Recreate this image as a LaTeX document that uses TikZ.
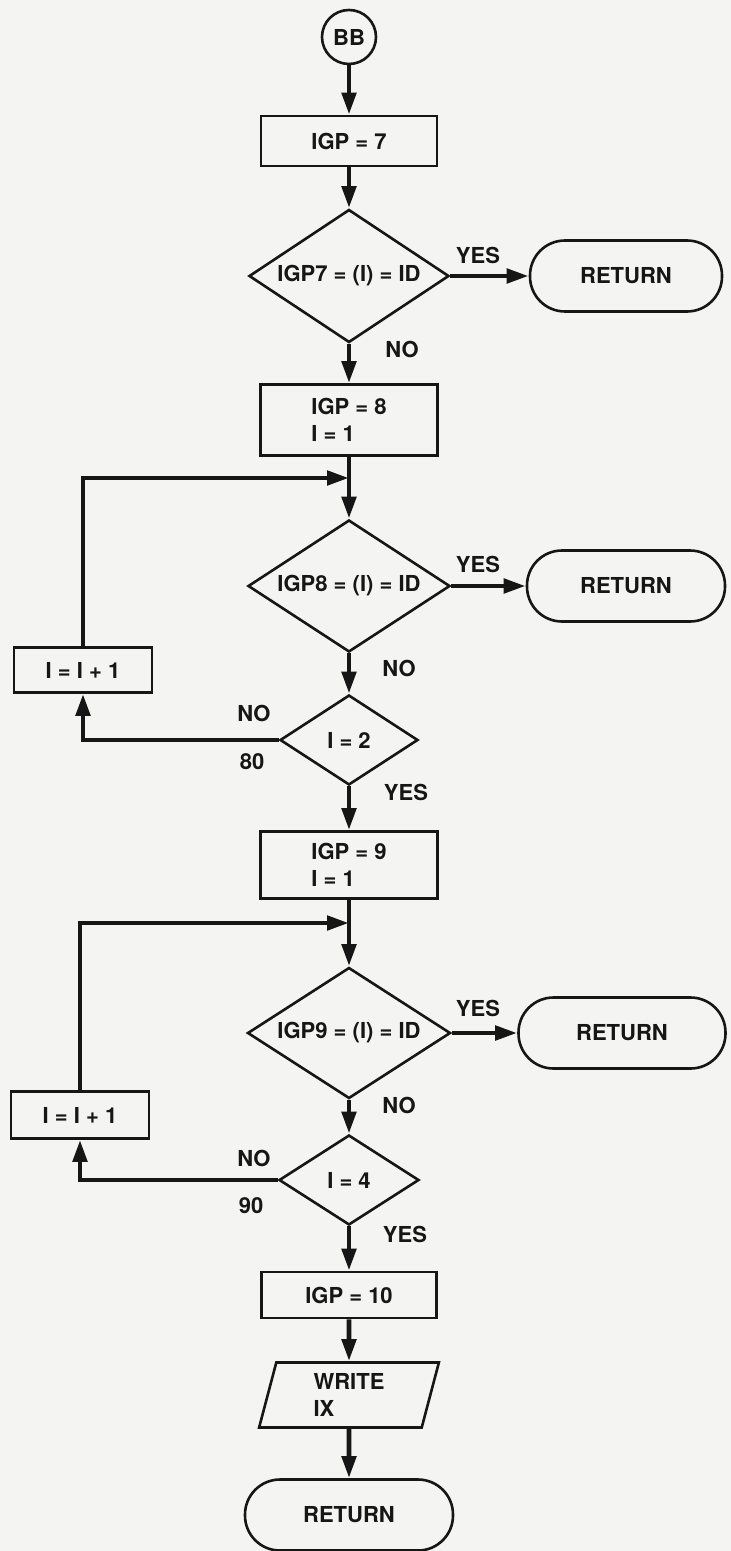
\documentclass[tikz,border=0pt]{standalone}
\usepackage{fontspec}
\setmainfont{TeX Gyre Heros}
\usetikzlibrary{arrows.meta,shapes.geometric}
\definecolor{paper}{HTML}{F4F4F2}
\definecolor{ink}{HTML}{161616}

\begin{document}
\begin{tikzpicture}[x=.5pt,y=-.5pt,line width=1.3pt,ink,
  every node/.style={font=\bfseries\fontsize{11}{13.5}\selectfont,text=ink},
  proc/.style={draw,rectangle,inner sep=0pt},
  decision/.style={draw,diamond,aspect=1.5,inner sep=0pt},
  term/.style={draw,rectangle,rounded corners=17.5pt,inner sep=0pt,minimum height=35.5pt},
  flow/.style={line width=2.4pt,-{Triangle[length=11pt,width=7pt]}}]
\fill[paper] (0,0) rectangle (731,1551);
\useasboundingbox (0,0) rectangle (731,1551);
% main column
\node[draw,circle,minimum size=27pt,inner sep=0pt] (bb) at (349,37) {BB};
\node[proc,minimum width=88pt,minimum height=25pt] (igp7) at (349,141) {IGP = 7};
\node[decision,minimum width=100pt,minimum height=66.5pt] (d7) at (349,276) {IGP7 = (I) = ID};
\node[term,minimum width=96pt] (ret7) at (626,276) {RETURN};
\node[proc,minimum width=88.5pt,minimum height=35.5pt,align=left] (igp8) at (349,420) {IGP = 8\\I = 1};
\coordinate (j8) at (349,478);
\node[decision,minimum width=101pt,minimum height=66pt] (d8) at (349,586) {IGP8 = (I) = ID};
\node[term,minimum width=99pt] (ret8) at (626,586) {RETURN};
\node[proc,minimum width=69pt,minimum height=22.5pt] (inc8) at (83,670) {I = I + 1};
\node[decision,minimum width=69pt,minimum height=45pt] (c8) at (349,740) {I = 2};
\node[proc,minimum width=88.5pt,minimum height=33.5pt,align=left] (igp9) at (349,865) {IGP = 9\\I = 1};
\coordinate (j9) at (349,923);
\node[decision,minimum width=101.5pt,minimum height=65.5pt] (d9) at (349,1033) {IGP9 = (I) = ID};
\node[term,minimum width=103.5pt] (ret9) at (622,1033) {RETURN};
\node[proc,minimum width=69pt,minimum height=23.5pt] (inc9) at (80,1115) {I = I + 1};
\node[decision,minimum width=70pt,minimum height=45pt] (c9) at (349,1180) {I = 4};
\node[proc,minimum width=87.5pt,minimum height=23pt] (igp10) at (349,1295) {IGP = 10};
\node[draw,trapezium,trapezium stretches=true,trapezium left angle=79,trapezium right angle=101,
  minimum width=90pt,minimum height=32.5pt,inner sep=0pt,align=left] (wr) at (349,1395) {WRITE\\IX};
\node[term,minimum width=104pt] (ret10) at (349,1515) {RETURN};
% connectors
\draw[flow] (bb) -- (igp7);
\draw[flow] (igp7) -- (d7);
\draw[flow] (d7.east) -- (ret7.west);
\draw[flow] (d7.south) -- (igp8.north);
\draw[flow] (igp8.south) -- (d8.north);
\draw[flow] (d8.east) -- (ret8.west);
\draw[flow] (d8.south) -- (c8.north);
\draw[flow] (c8.west) -| (inc8.south);
\draw[flow] (inc8.north) |- (j8);
\draw[flow] (c8.south) -- (igp9.north);
\draw[flow] (igp9.south) -- (d9.north);
\draw[flow] (d9.east) -- (ret9.west);
\draw[flow] (d9.south) -- (c9.north);
\draw[flow] (c9.west) -| (inc9.south);
\draw[flow] (inc9.north) |- (j9);
\draw[flow] (c9.south) -- (igp10.north);
\draw[flow] (igp10.south) -- (wr.north);
\draw[flow] (wr.south) -- (ret10.north);
% branch labels
\node (y7) at (478,255) {YES}; \node (n7) at (402,349) {NO};
\node (y8) at (478,564) {YES}; \node (n8) at (399,668) {NO};
\node (n8l) at (254,713) {NO}; \node (l80) at (252,762) {80}; \node (y8b) at (406,792) {YES};
\node (y9) at (478,1008) {YES}; \node (n9) at (399,1105) {NO};
\node (n9l) at (254,1158) {NO}; \node (l90) at (251,1206) {90}; \node (y9b) at (405,1234) {YES};
\end{tikzpicture}
\end{document}
